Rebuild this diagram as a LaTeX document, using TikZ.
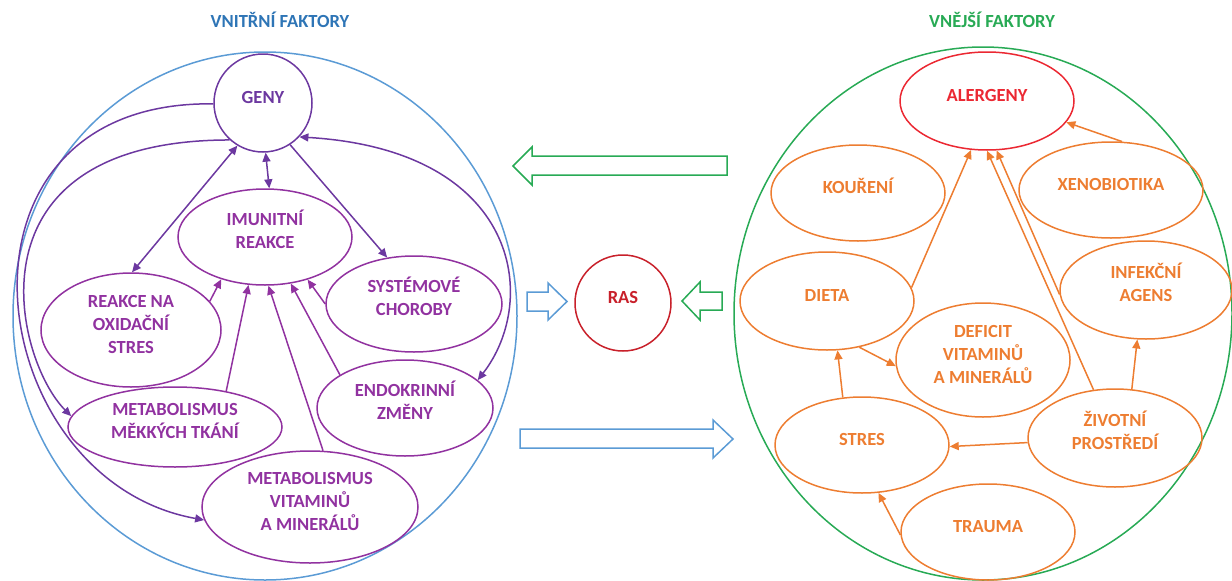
\documentclass[tikz,border=0pt]{standalone}
\usepackage{fontspec}
\setmainfont{Carlito}
\usetikzlibrary{shapes.geometric,arrows.meta}
\definecolor{inblue}{RGB}{91,155,213}
\definecolor{titblue}{RGB}{46,117,182}
\definecolor{exgreen}{RGB}{40,170,85}
\definecolor{pdark}{RGB}{108,56,160}
\definecolor{pmag}{RGB}{145,50,160}
\definecolor{rasred}{RGB}{200,32,42}
\definecolor{alred}{RGB}{235,40,50}
\definecolor{orng}{RGB}{237,125,49}
\begin{document}
\begin{tikzpicture}[x=1pt,y=-1pt,>={Triangle[length=9pt,width=8pt]},line width=1.5pt,
  every node/.style={font=\fontsize{18.5}{23}\selectfont\bfseries,align=center},
  oval/.style={ellipse,draw,line width=1.5pt,inner sep=0pt,text height=12pt,text depth=12pt},
  two/.style={text height=35pt},
  three/.style={text height=58pt},
  title/.style={anchor=base}]
\useasboundingbox (0,0) rectangle (1232,581);
% titles and big circles
\node[title,text=titblue] (tin) at (280,27) {VNITŘNÍ FAKTORY};
\node[title,text=exgreen] (tex) at (992,27) {VNĚJŠÍ FAKTORY};
\node[ellipse,draw=inblue,line width=1.5pt,minimum width=504,minimum height=528] (vnitrni) at (265,316) {};
\node[ellipse,draw=exgreen,line width=1.5pt,minimum width=498,minimum height=533] (vnejsi) at (983,313.5) {};
% inner factors
\node[oval,circle,draw=pdark,text=pdark,minimum size=98] (geny) at (263,103) {GENY};
\node[oval,two,draw=pmag,text=pmag,minimum width=174,minimum height=96] (imun) at (265,237) {IMUNITNÍ\\REAKCE};
\node[oval,two,draw=pmag,text=pmag,minimum width=176,minimum height=96] (sys) at (414,304) {SYSTÉMOVÉ\\CHOROBY};
\node[oval,three,draw=pmag,text=pmag,minimum width=180,minimum height=114] (oxi) at (131,330) {REAKCE NA\\OXIDAČNÍ\\STRES};
\node[oval,two,draw=pmag,text=pmag,minimum width=214,minimum height=80] (mmt) at (175,427) {METABOLISMUS\\MĚKKÝCH TKÁNÍ};
\node[oval,two,draw=pmag,text=pmag,minimum width=176,minimum height=96] (endo) at (405,408) {ENDOKRINNÍ\\ZMĚNY};
\node[oval,three,draw=pmag,text=pmag,minimum width=216,minimum height=112] (mvam) at (310,507) {METABOLISMUS\\VITAMINŮ\\A MINERÁLŮ};
% links from geny
\draw[<->,pdark] (geny.-87) -- (imun.85);
\draw[<->,pdark] (geny.-121) -- (oxi.89);
\draw[->,pdark] (geny.-57) -- (sys.120);
\draw[->,pdark] (geny.-132) .. controls (-40,140) and (15,360) .. (mmt.174);
\draw[->,pdark] (geny.181) .. controls (-70,100) and (-20,480) .. (mvam.187);
\draw[<->,pdark] (geny.-43) .. controls (520,150) and (540,300) .. (endo.21);
% links into imunitni reakce
\draw[->,pmag] (oxi.20) -- (imun.-136);
\draw[->,pmag] (mmt.35) -- (imun.-109);
\draw[->,pmag] (mvam.77) -- (imun.-86);
\draw[->,pmag] (endo.153) -- (imun.-61);
\draw[->,pmag] (sys.180) -- (imun.-45);
% middle
\node[oval,circle,draw=rasred,text=rasred,minimum size=96] (ras) at (623,303) {RAS};
\draw[exgreen] (727,156) -- (532,156) -- (532,147) -- (513,166) -- (532,185) -- (532,175) -- (727,175) -- cycle;
\draw[inblue] (527,292) -- (548,292) -- (548,283) -- (567,301.5) -- (548,320) -- (548,311) -- (527,311) -- cycle;
\draw[exgreen] (722,292) -- (700,292) -- (700,282) -- (682,301) -- (700,320) -- (700,310) -- (722,310) -- cycle;
\draw[inblue] (520,429) -- (713,429) -- (713,420) -- (733,439) -- (713,458) -- (713,448) -- (520,448) -- cycle;
% outer factors
\node[oval,draw=alred,text=alred,minimum width=174,minimum height=98] (aler) at (987,101) {ALERGENY};
\node[oval,draw=orng,text=orng,minimum width=174,minimum height=96] (kour) at (858,193) {KOUŘENÍ};
\node[oval,draw=orng,text=orng,minimum width=184,minimum height=96] (xeno) at (1111,190) {XENOBIOTIKA};
\node[oval,two,draw=orng,text=orng,minimum width=172,minimum height=98] (infe) at (1146,290) {INFEKČNÍ\\AGENS};
\node[oval,draw=orng,text=orng,minimum width=174,minimum height=98] (dieta) at (827,301) {DIETA};
\node[oval,three,draw=orng,text=orng,minimum width=174,minimum height=114] (defi) at (983,360) {DEFICIT\\VITAMINŮ\\A MINERÁLŮ};
\node[oval,two,draw=orng,text=orng,minimum width=174,minimum height=98] (ziv) at (1115,438) {ŽIVOTNÍ\\PROSTŘEDÍ};
\node[oval,draw=orng,text=orng,minimum width=174,minimum height=96] (stres) at (862,445) {STRES};
\node[oval,draw=orng,text=orng,minimum width=174,minimum height=96] (trau) at (988,532) {TRAUMA};
% links between outer factors
\draw[->,orng] (xeno.77) -- (aler.-15);
\draw[->,orng] (dieta.9) -- (aler.-108);
\draw[->,orng] (ziv.114) -- (aler.-90);
\draw[->,orng] (infe.183) -- (aler.-79);
\draw[->,orng] (ziv.71) -- (infe.-100);
\draw[->,orng] (ziv.183) -- (stres.-1);
\draw[->,orng] (stres.112) -- (dieta.-78);
\draw[->,orng] (dieta.-55) -- (defi.184);
\draw[->,orng] (trau.182) -- (stres.-71);
\end{tikzpicture}
\end{document}
